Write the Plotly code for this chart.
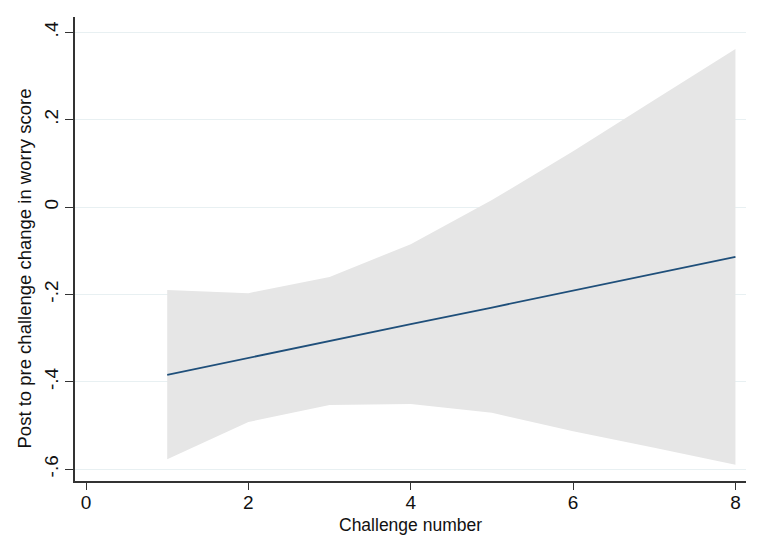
import plotly.graph_objects as go

challenge = [1, 2, 3, 4, 5, 6, 7, 8]
fit = [-0.384, -0.345, -0.307, -0.268, -0.230, -0.191, -0.153, -0.114]
upper = [-0.190, -0.197, -0.160, -0.085, 0.016, 0.128, 0.245, 0.362]
lower = [-0.577, -0.492, -0.453, -0.451, -0.471, -0.513, -0.551, -0.590]

y_ticks = [-0.6, -0.4, -0.2, 0, 0.2, 0.4]
y_tick_text = ["-.6", "-.4", "-.2", "0", ".2", ".4"]
x_ticks = [0, 2, 4, 6, 8]

FONT = "Liberation Sans, Arial, sans-serif"

fig = go.Figure()
fig.add_trace(go.Scatter(x=challenge, y=upper, mode="lines", line=dict(width=0),
                         hoverinfo="skip", showlegend=False))
fig.add_trace(go.Scatter(x=challenge, y=lower, mode="lines", line=dict(width=0),
                         fill="tonexty", fillcolor="#E6E6E6", showlegend=False))
fig.add_trace(go.Scatter(x=challenge, y=fit, mode="lines",
                         line=dict(color="#1f4f7a", width=1.8), showlegend=False))

fig.update_layout(
    width=765, height=555,
    margin=dict(l=75, r=19, t=17, b=74),
    paper_bgcolor="white", plot_bgcolor="white",
    font=dict(family=FONT, color="#111111"),
    showlegend=False,
    xaxis=dict(range=[-0.136, 8.13], tickvals=x_ticks, showgrid=False, zeroline=False,
               showline=True, linecolor="#333333", linewidth=1.6,
               ticks="outside", ticklen=7, tickwidth=1.4, tickcolor="#333333",
               tickfont=dict(size=19, family=FONT, color="#111111"),
               ticklabelstandoff=-4),
    yaxis=dict(range=[-0.627, 0.435], tickvals=y_ticks, ticktext=y_tick_text,
               tickangle=-90, showgrid=True, gridcolor="#E8F0F2", gridwidth=1,
               zeroline=False, showline=True, linecolor="#333333", linewidth=1.6,
               ticks="outside", ticklen=8, tickwidth=1.4, tickcolor="#333333",
               tickfont=dict(size=19, family=FONT, color="#111111"),
               ticklabelstandoff=0),
    annotations=[
        dict(text="Challenge number", xref="paper", yref="paper", x=0.5, y=-0.094,
             xanchor="center", yanchor="middle", showarrow=False,
             font=dict(size=17.5, family=FONT, color="#111111")),
        dict(text="Post to pre challenge change in worry score", xref="paper", yref="paper",
             x=-0.0753, y=0.459, xanchor="center", yanchor="middle", textangle=-90,
             showarrow=False, font=dict(size=18.5, family=FONT, color="#111111")),
    ],
)

fig.write_html("out.html")
